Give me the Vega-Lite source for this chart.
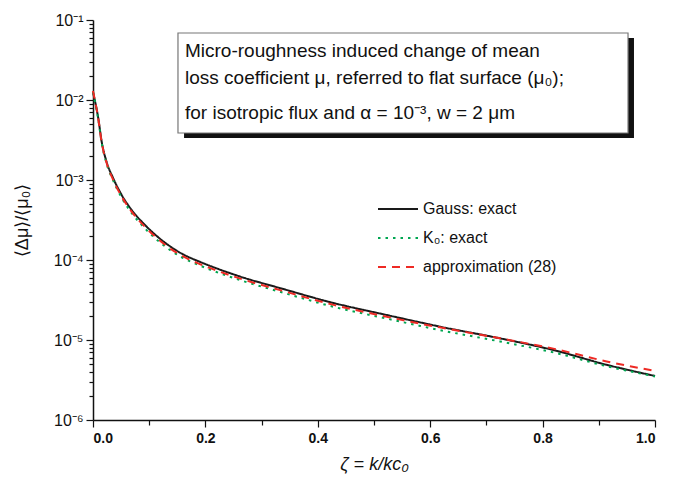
{
  "$schema": "https://vega.github.io/schema/vega-lite/v6.json",
  "width": 562,
  "height": 400,
  "autosize": "none",
  "padding": {"left": 93, "top": 20, "right": 39, "bottom": 58},
  "background": "white",
  "config": {
    "font": "Liberation Sans",
    "view": {"stroke": null},
    "axis": {"grid": false, "domainColor": "#111", "domainWidth": 1.5, "tickColor": "#111", "tickWidth": 1.2, "labelColor": "#111", "titleColor": "#111", "labelFont": "Liberation Sans", "titleFont": "Liberation Sans"}
  },
  "data": {
    "values": [
      {"x": 0.0, "y": 1.25e-2, "s": "Gauss: exact"},
      {"x": 0.0094, "y": 5.9e-3, "s": "Gauss: exact"},
      {"x": 0.0155, "y": 3.0e-3, "s": "Gauss: exact"},
      {"x": 0.024, "y": 1.7e-3, "s": "Gauss: exact"},
      {"x": 0.036, "y": 1.05e-3, "s": "Gauss: exact"},
      {"x": 0.051, "y": 6.5e-4, "s": "Gauss: exact"},
      {"x": 0.069, "y": 4.2e-4, "s": "Gauss: exact"},
      {"x": 0.0925, "y": 2.74e-4, "s": "Gauss: exact"},
      {"x": 0.122, "y": 1.78e-4, "s": "Gauss: exact"},
      {"x": 0.158, "y": 1.2e-4, "s": "Gauss: exact"},
      {"x": 0.19, "y": 9.5e-5, "s": "Gauss: exact"},
      {"x": 0.211, "y": 8.3e-5, "s": "Gauss: exact"},
      {"x": 0.262, "y": 6.2e-5, "s": "Gauss: exact"},
      {"x": 0.333, "y": 4.45e-5, "s": "Gauss: exact"},
      {"x": 0.428, "y": 2.9e-5, "s": "Gauss: exact"},
      {"x": 0.523, "y": 2.05e-5, "s": "Gauss: exact"},
      {"x": 0.582, "y": 1.66e-5, "s": "Gauss: exact"},
      {"x": 0.617, "y": 1.47e-5, "s": "Gauss: exact"},
      {"x": 0.724, "y": 1.05e-5, "s": "Gauss: exact"},
      {"x": 0.819, "y": 7.5e-6, "s": "Gauss: exact"},
      {"x": 0.914, "y": 4.9e-6, "s": "Gauss: exact"},
      {"x": 1.0, "y": 3.55e-6, "s": "Gauss: exact"},
      {"x": 0.0, "y": 1.25e-2, "s": "K₀: exact"},
      {"x": 0.0094, "y": 5.7e-3, "s": "K₀: exact"},
      {"x": 0.0155, "y": 2.9e-3, "s": "K₀: exact"},
      {"x": 0.024, "y": 1.62e-3, "s": "K₀: exact"},
      {"x": 0.036, "y": 9.8e-4, "s": "K₀: exact"},
      {"x": 0.051, "y": 6.0e-4, "s": "K₀: exact"},
      {"x": 0.069, "y": 3.85e-4, "s": "K₀: exact"},
      {"x": 0.0925, "y": 2.48e-4, "s": "K₀: exact"},
      {"x": 0.122, "y": 1.6e-4, "s": "K₀: exact"},
      {"x": 0.158, "y": 1.08e-4, "s": "K₀: exact"},
      {"x": 0.19, "y": 8.55e-5, "s": "K₀: exact"},
      {"x": 0.211, "y": 7.45e-5, "s": "K₀: exact"},
      {"x": 0.262, "y": 5.6e-5, "s": "K₀: exact"},
      {"x": 0.333, "y": 4.0e-5, "s": "K₀: exact"},
      {"x": 0.428, "y": 2.6e-5, "s": "K₀: exact"},
      {"x": 0.523, "y": 1.85e-5, "s": "K₀: exact"},
      {"x": 0.582, "y": 1.5e-5, "s": "K₀: exact"},
      {"x": 0.617, "y": 1.33e-5, "s": "K₀: exact"},
      {"x": 0.724, "y": 9.6e-6, "s": "K₀: exact"},
      {"x": 0.819, "y": 7.0e-6, "s": "K₀: exact"},
      {"x": 0.914, "y": 4.7e-6, "s": "K₀: exact"},
      {"x": 1.0, "y": 3.5e-6, "s": "K₀: exact"},
      {"x": 0.0, "y": 1.3e-2, "s": "approximation (28)"},
      {"x": 0.0094, "y": 5.8e-3, "s": "approximation (28)"},
      {"x": 0.0155, "y": 2.95e-3, "s": "approximation (28)"},
      {"x": 0.024, "y": 1.65e-3, "s": "approximation (28)"},
      {"x": 0.036, "y": 1.0e-3, "s": "approximation (28)"},
      {"x": 0.051, "y": 6.2e-4, "s": "approximation (28)"},
      {"x": 0.069, "y": 4.0e-4, "s": "approximation (28)"},
      {"x": 0.0925, "y": 2.6e-4, "s": "approximation (28)"},
      {"x": 0.122, "y": 1.68e-4, "s": "approximation (28)"},
      {"x": 0.158, "y": 1.13e-4, "s": "approximation (28)"},
      {"x": 0.19, "y": 8.9e-5, "s": "approximation (28)"},
      {"x": 0.211, "y": 7.8e-5, "s": "approximation (28)"},
      {"x": 0.262, "y": 5.85e-5, "s": "approximation (28)"},
      {"x": 0.333, "y": 4.2e-5, "s": "approximation (28)"},
      {"x": 0.428, "y": 2.75e-5, "s": "approximation (28)"},
      {"x": 0.523, "y": 1.95e-5, "s": "approximation (28)"},
      {"x": 0.582, "y": 1.6e-5, "s": "approximation (28)"},
      {"x": 0.617, "y": 1.44e-5, "s": "approximation (28)"},
      {"x": 0.724, "y": 1.05e-5, "s": "approximation (28)"},
      {"x": 0.819, "y": 7.8e-6, "s": "approximation (28)"},
      {"x": 0.914, "y": 5.4e-6, "s": "approximation (28)"},
      {"x": 1.0, "y": 4.1e-6, "s": "approximation (28)"}
    ]
  },
  "layer": [
    {
      "mark": {"type": "line", "strokeWidth": 2, "interpolate": "monotone"},
      "encoding": {
        "x": {
          "field": "x", "type": "quantitative",
          "scale": {"domain": [0, 1], "nice": false, "zero": false},
          "axis": {
            "title": "ζ = k/kc₀",
            "titleFontStyle": "italic", "titleFontWeight": "normal", "titleFontSize": 18,
            "titlePadding": 10,
            "values": [0, 0.1, 0.2, 0.3, 0.4, 0.5, 0.6, 0.7, 0.8, 0.9, 1.0],
            "labelExpr": "round(datum.value*10) % 2 == 0 ? format(datum.value, '.1f') : ''",
            "labelFontWeight": "bold", "labelFontSize": 14, "labelPadding": 4,
            "tickSize": {"condition": {"test": "round(datum.value*10) % 2 == 0", "value": 7}, "value": 5}
          }
        },
        "y": {
          "field": "y", "type": "quantitative",
          "scale": {"type": "log", "domain": [1e-6, 0.1], "nice": false},
          "axis": {
            "title": "⟨Δμ⟩/⟨μ₀⟩",
            "titleFontSize": 18, "titleFontWeight": "normal",
            "titleX": -71, "titleY": 200, "titleAlign": "center", "titleBaseline": "middle", "titleAngle": 270,
            "values": [1e-6, 2e-6, 3e-6, 4e-6, 5e-6, 6e-6, 7e-6, 8e-6, 9e-6, 1e-5, 2e-5, 3e-5, 4e-5, 5e-5, 6e-5, 7e-5, 8e-5, 9e-5, 1e-4, 2e-4, 3e-4, 4e-4, 5e-4, 6e-4, 7e-4, 8e-4, 9e-4, 1e-3, 2e-3, 3e-3, 4e-3, 5e-3, 6e-3, 7e-3, 8e-3, 9e-3, 1e-2, 2e-2, 3e-2, 4e-2, 5e-2, 6e-2, 7e-2, 8e-2, 9e-2, 0.1],
            "labelExpr": "abs(log(datum.value)/LN10 - round(log(datum.value)/LN10)) < 1e-6 ? '10⁻' + ['⁰','¹','²','³','⁴','⁵','⁶'][-round(log(datum.value)/LN10)] : ''",
            "labelFontSize": 16, "labelPadding": 3,
            "tickSize": {"condition": {"test": "abs(log(datum.value)/LN10 - round(log(datum.value)/LN10)) < 1e-6", "value": 7}, "value": 4}
          }
        },
        "color": {
          "field": "s", "type": "nominal",
          "scale": {"domain": ["Gauss: exact", "K₀: exact", "approximation (28)"], "range": ["#1a1a1a", "#00a651", "#ee2a24"]},
          "legend": {
            "title": null, "orient": "none", "legendX": 284, "legendY": 168,
            "symbolType": "stroke", "symbolSize": 1600, "symbolStrokeWidth": 2,
            "labelFontSize": 16, "labelColor": "#111", "labelOffset": 4, "rowPadding": 0
          }
        },
        "strokeDash": {
          "field": "s", "type": "nominal",
          "scale": {"domain": ["Gauss: exact", "K₀: exact", "approximation (28)"], "range": [[1, 0], [2.5, 5], [8, 6]]},
          "legend": null
        }
      }
    },
    {
      "data": {"values": [{}]},
      "mark": {"type": "rect", "color": "#111"},
      "encoding": {
        "x": {"datum": 0.162}, "x2": {"datum": 0.9626},
        "y": {"datum": 0.0596}, "y2": {"datum": 0.00335}
      }
    },
    {
      "data": {"values": [{}]},
      "mark": {"type": "rect", "fill": "white", "stroke": "#777", "strokeWidth": 1.2},
      "encoding": {
        "x": {"datum": 0.1512}, "x2": {"datum": 0.952},
        "y": {"datum": 0.0688}, "y2": {"datum": 0.00387}
      }
    },
    {
      "data": {"values": [{"t": "Micro-roughness induced change of mean"}]},
      "mark": {"type": "text", "align": "left", "baseline": "alphabetic", "fontSize": 19, "color": "#111"},
      "encoding": {"x": {"datum": 0.1637}, "y": {"datum": 0.0345}, "text": {"field": "t"}}
    },
    {
      "data": {"values": [{"t": "loss coefficient μ, referred to flat surface (μ₀);"}]},
      "mark": {"type": "text", "align": "left", "baseline": "alphabetic", "fontSize": 19, "color": "#111"},
      "encoding": {"x": {"datum": 0.1637}, "y": {"datum": 0.0158}, "text": {"field": "t"}}
    },
    {
      "data": {"values": [{"t": "for isotropic flux and α = 10⁻³, w = 2 μm"}]},
      "mark": {"type": "text", "align": "left", "baseline": "alphabetic", "fontSize": 19, "color": "#111"},
      "encoding": {"x": {"datum": 0.1637}, "y": {"datum": 0.0058}, "text": {"field": "t"}}
    }
  ]
}
